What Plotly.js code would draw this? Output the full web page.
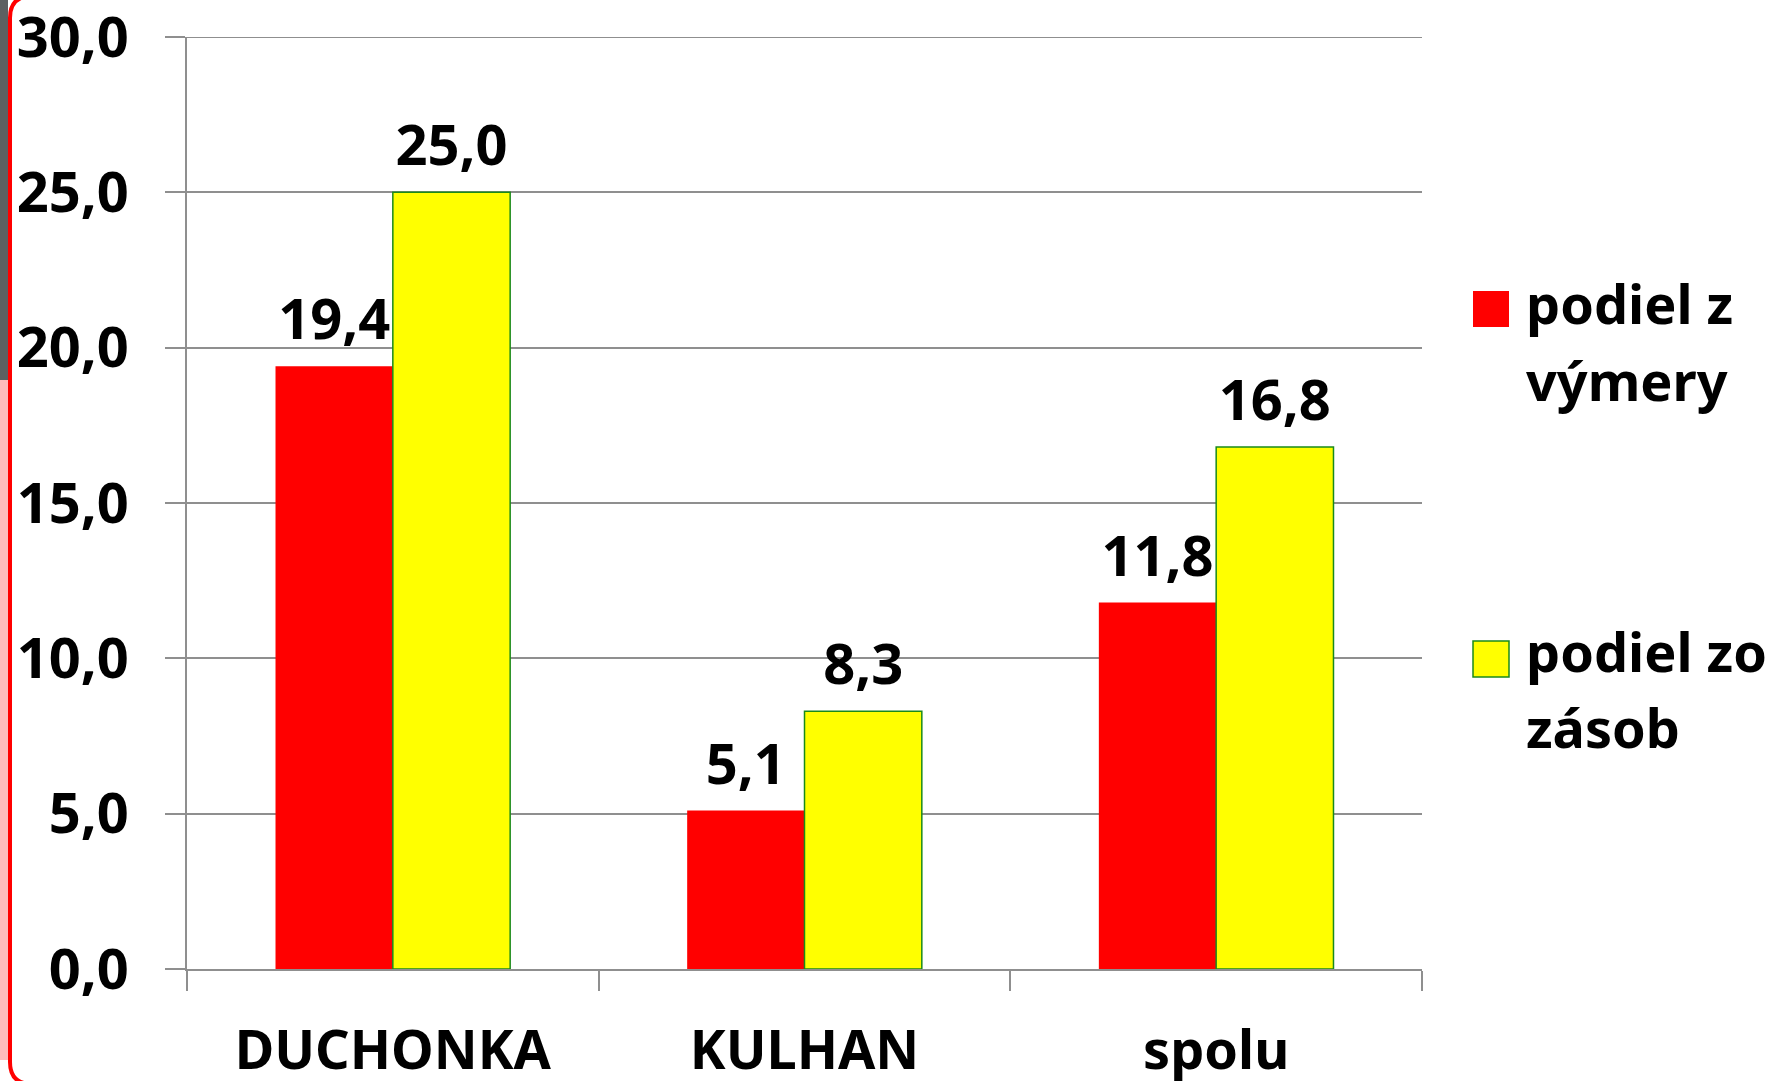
<!DOCTYPE html>
<html>
<head>
<meta charset="utf-8">
<script src="https://cdn.plot.ly/plotly-3.0.1.min.js"></script>
<style>html,body{margin:0;padding:0;background:#fff;}#chart{width:1771px;height:1081px;}</style>
</head>
<body>
<div id="chart"></div>
<script>
const categories = ['DUCHONKA', 'KULHAN', 'spolu'];
const seriesNames = ['podiel z<br>výmery', 'podiel zo<br>zásob'];
const podielVymery = [19.4, 5.1, 11.8];
const podielZasob = [25.0, 8.3, 16.8];
const yTicks = [0, 5, 10, 15, 20, 25, 30];

const W = 1771, H = 1081, L = 187, R = 349, T = 37, B = 112;
const pw = W - L - R, ph = H - T - B;
const px = p => (p - L) / pw;
const py = p => (H - B - p) / ph;

const FONT = 'Noto Sans, Open Sans, sans-serif';
const FS = 56;      // numbers
const FS_TXT = 54;  // category words
const FS_LEG = 54;  // legend words
const GRID = '#8f8f8f';
const numFont = {family: FONT, size: FS, color: '#000', weight: 'bold'};
const txtFont = {family: FONT, size: FS_TXT, color: '#000', weight: 'bold'};
const legFont = {family: FONT, size: FS_LEG, color: '#000', weight: 'bold'};

function barTrace(vals, name, group, color, lineColor, lineW) {
  return {
    type: 'bar', x: categories, y: vals, name: name, offsetgroup: group,
    marker: {color: color, line: {color: lineColor, width: lineW}},
    showlegend: false, hoverinfo: 'skip'
  };
}
function labelTrace(vals, group) {
  return {
    type: 'scatter', mode: 'markers+text', x: categories, y: vals, offsetgroup: group,
    marker: {size: 19, opacity: 0, color: '#fff'},
    text: vals.map(v => v.toFixed(1).replace('.', ',')),
    textposition: 'top center', textfont: numFont, cliponaxis: false,
    showlegend: false, hoverinfo: 'skip'
  };
}

const traces = [
  barTrace(podielVymery, seriesNames[0], 'a', '#ff0000', '#ff0000', 0),
  barTrace(podielZasob, seriesNames[1], 'b', '#ffff00', '#1a8a1a', 1.5),
  labelTrace(podielVymery, 'a'),
  labelTrace(podielZasob, 'b')
];

// slide border (rounded), in paper units
const bx0 = px(10), bx1 = px(1790), by0 = py(-4), by1 = py(1084);
const rx = 22 / pw, ry = 22 / ph;
const borderPath = `M ${bx0 + rx},${by0} L ${bx1},${by0} L ${bx1},${by1} L ${bx0 + rx},${by1} Q ${bx0},${by1} ${bx0},${by1 + ry} L ${bx0},${by0 - ry} Q ${bx0},${by0} ${bx0 + rx},${by0} Z`;

const shapes = [
  {type: 'rect', xref: 'paper', yref: 'paper', x0: px(0), x1: px(8), y0: py(0), y1: py(380),
   fillcolor: '#4b4f50', opacity: 0.9, line: {width: 0}, layer: 'below'},
  {type: 'rect', xref: 'paper', yref: 'paper', x0: px(0), x1: px(8), y0: py(380), y1: py(1060),
   fillcolor: '#ffb4b4', opacity: 0.9, line: {width: 0}, layer: 'below'},
  {type: 'path', xref: 'paper', yref: 'paper', path: borderPath,
   line: {color: '#ff0000', width: 4}, layer: 'above'},
  // top gridline (at range end)
  {type: 'line', xref: 'paper', yref: 'y', x0: 0, x1: 1, y0: yTicks[yTicks.length - 1], y1: yTicks[yTicks.length - 1],
   line: {color: GRID, width: 2}, layer: 'below'},
  // legend swatches
  {type: 'rect', xref: 'paper', yref: 'paper', x0: px(1473), x1: px(1509), y0: py(291), y1: py(327),
   fillcolor: '#ff0000', line: {width: 0}},
  {type: 'rect', xref: 'paper', yref: 'paper', x0: px(1473), x1: px(1509), y0: py(641), y1: py(677),
   fillcolor: '#ffff00', line: {color: '#1a8a1a', width: 1.5}}
];

// legend text, one annotation per line
const legendTops = [[264, 341], [612, 688]];
const annotations = [];
seriesNames.forEach((name, i) => {
  name.split('<br>').forEach((line, j) => {
    annotations.push({xref: 'paper', yref: 'paper', x: px(1524), y: py(legendTops[i][j]),
      xanchor: 'left', yanchor: 'top', align: 'left', text: line, showarrow: false, font: legFont});
  });
});

const layout = {
  width: W, height: H,
  margin: {l: L, r: R, t: T, b: B, pad: 0},
  paper_bgcolor: '#ffffff', plot_bgcolor: '#ffffff',
  separators: ', ',
  barmode: 'group', bargap: 0.43, bargroupgap: 0,
  scattermode: 'group', scattergap: 0.43,
  showlegend: false,
  font: txtFont,
  xaxis: {
    type: 'category', range: [-0.5, 2.5],
    showgrid: false, showline: true, linecolor: GRID, linewidth: 2,
    ticks: 'outside', tickson: 'boundaries', ticklen: 20, tickwidth: 2, tickcolor: GRID,
    ticklabelstandoff: 33,
    tickfont: txtFont,
    fixedrange: true
  },
  yaxis: {
    range: [0, 30], tickvals: yTicks, tickformat: '.1f',
    showgrid: true, gridcolor: GRID, gridwidth: 2,
    showline: true, linecolor: GRID, linewidth: 2, zeroline: false,
    ticks: 'outside', ticklen: 20, tickwidth: 2, tickcolor: GRID,
    ticklabelstandoff: 25, ticklabeloverflow: 'allow',
    tickfont: numFont,
    fixedrange: true
  },
  shapes: shapes,
  annotations: annotations
};

Plotly.newPlot('chart', traces, layout, {displayModeBar: false, staticPlot: true});
</script>
</body>
</html>
